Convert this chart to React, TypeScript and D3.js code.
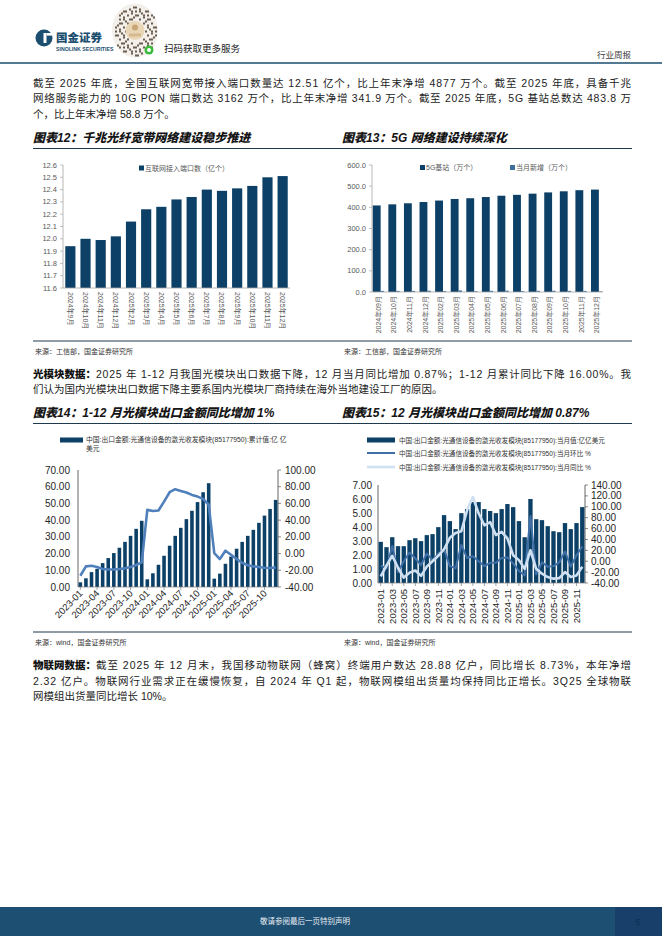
import React from 'react';
import * as d3 from 'd3';

// ---------- Data ----------
const portMonths = ['2024年9月','2024年10月','2024年11月','2024年12月','2025年2月','2025年3月','2025年4月','2025年5月','2025年6月','2025年7月','2025年8月','2025年9月','2025年10月','2025年11月','2025年12月'];
const portValues = [11.94,12.00,11.99,12.02,12.14,12.24,12.26,12.32,12.34,12.40,12.39,12.41,12.43,12.50,12.51];
const portTicks = [11.6,11.7,11.8,11.9,12.0,12.1,12.2,12.3,12.4,12.5,12.6];

const bsMonths = ['2024年09月','2024年10月','2024年11月','2024年12月','2025年02月','2025年03月','2025年04月','2025年05月','2025年06月','2025年07月','2025年08月','2025年09月','2025年10月','2025年11月','2025年12月'];
const bsTotal = [408.9,414.1,419.1,425.1,432.0,439.5,443.0,448.6,454.9,459.0,464.6,470.5,475.8,481.0,483.8];
const bsNew = [5.2,5.2,5.0,6.0,4.0,7.5,3.6,5.6,6.3,4.1,5.6,5.9,5.3,5.2,2.8];
const bsTicks = [0,100,200,300,400,500,600];

const exportMonths: string[] = [];
for (const yr of [2023, 2024, 2025]) for (let m = 1; m <= 12; m++) exportMonths.push(`${yr}-${m < 10 ? '0' + m : m}`);

const cumValues = [2.8,5.2,8.9,10.9,14.3,17.3,20.3,23.5,27.0,30.6,34.8,39.6, 4.6,8.2,13.3,18.7,24.7,30.6,35.4,40.6,45.6,50.8,56.7,62.1, 5.0,8.0,13.9,18.2,22.9,27.0,30.6,34.2,38.4,42.7,46.7,52.1];
const cumYoY = [-26.5,-15.3,-14.5,-16,-18.5,-19,-19,-18.5,-17.7,-16,-13.7,-10.5, 52.3,51,51.5,62.2,73.4,77,75,73,70.2,68.2,65.4,58.4, 0.6,-6.6,3.4,-1.4,-6.6,-11,-14,-15.3,-16,-17,-17.3,-16.5];
const cumLeftTicks = [0,10,20,30,40,50,60,70];
const cumRightTicks = [-40,-20,0,20,40,60,80,100];
const cumLabelMonths = ['2023-01','2023-04','2023-07','2023-10','2024-01','2024-04','2024-07','2024-10','2025-01','2025-04','2025-07','2025-10'];

const monthValues = [2.94,2.56,3.27,2.63,2.63,3.06,3.20,2.99,3.42,3.49,3.99,4.85, 4.42,3.85,4.99,5.28,5.78,5.78,5.28,5.14,4.99,5.28,5.64,5.42, 4.42,3.27,6.00,4.56,4.49,4.06,3.70,3.63,4.28,3.85,4.28,5.42];
const momValues = [-8,-13,28,-20,0,16,5,-7,14,2,14,22, -9,-13,30,6,9,0,-9,-3,-3,6,7,-4, -18,-26,83,-24,-2,-10,-9,-2,18,-10,11,27];
const yoyValues = [-28,-8,10,-12,-30,-21,-17,-27,-10,0,10,22, 43,52,55,94,118,88,66,72,48,54,42,11, 2,-14,20,-14,-23,-29,-32,-31,-20,-29,-26,-10];
const monLeftTicks = [0,1,2,3,4,5,6,7];
const monRightTicks = [-40,-20,0,20,40,60,80,100,120,140];
const monLabelMonths = ['2023-01','2023-03','2023-05','2023-07','2023-09','2023-11','2024-01','2024-03','2024-05','2024-07','2024-09','2024-11','2025-01','2025-03','2025-05','2025-07','2025-09','2025-11'];

// ---------- Styles ----------
const NAVY = '#0c4066';
const HEAD = '#1b4e6f';
const CJK = '"Liberation Sans", "Noto Sans CJK SC", sans-serif';
const NUM = '"Liberation Sans", Arial, sans-serif';

function JLine({ x, y, w, text, bold, prefix, size = 10.5 }: any) {
  if (prefix) {
    const pw = prefix.length * size;
    return (
      <g>
        <text x={x} y={y} fontSize={size} fontWeight={900} fill="#111" fontFamily={CJK}>{prefix}</text>
        <text x={x + pw} y={y} fontSize={size} fill="#222" fontFamily={CJK}
          {...(w ? { textLength: w - pw, lengthAdjust: 'spacing' } : {})}>{text}</text>
      </g>
    );
  }
  return (
    <text x={x} y={y} fontSize={size} fill="#222" fontFamily={CJK} fontWeight={bold ? 900 : 400}
      {...(w ? { textLength: w, lengthAdjust: 'spacing' } : {})}>{text}</text>
  );
}

function Title({ x, y, text }: any) {
  return <text x={x} y={y} fontSize={12} fontWeight={900} fontStyle="italic" fill="#151515" fontFamily={CJK}>{text}</text>;
}

function Chart12() {
  const y = d3.scaleLinear().domain([11.6, 12.6]).range([288, 165]);
  const x = d3.scaleBand().domain(portMonths).range([63, 290]).paddingInner(0.33).paddingOuter(0.15);
  return (
    <g>
      {portTicks.map(t => (
        <g key={t}>
          <line x1={60} x2={63} y1={y(t)} y2={y(t)} stroke="#a6a6a6" strokeWidth={0.7} />
          <text x={57} y={y(t) + 2.5} fontSize={7.5} fill="#595959" textAnchor="end" fontFamily={NUM}>{t.toFixed(1)}</text>
        </g>
      ))}
      <line x1={63} x2={63} y1={165} y2={288} stroke="#a6a6a6" strokeWidth={0.8} />
      {portMonths.map((m, i) => (
        <rect key={m} x={x(m)} y={y(portValues[i])} width={x.bandwidth()} height={288 - y(portValues[i])} fill={NAVY} />
      ))}
      <line x1={63} x2={290} y1={288} y2={288} stroke="#a6a6a6" strokeWidth={0.8} />
      {portMonths.map((m, i) => (
        <text key={m} transform={`translate(${(x(m) as number) + x.bandwidth() / 2 - 2.5},292) rotate(90)`} fontSize={7} fill="#595959" fontFamily={CJK}>{m}</text>
      ))}
      <rect x={139} y={165.5} width={5} height={5} fill={NAVY} />
      <text x={145} y={170.5} fontSize={7} fill="#595959" fontFamily={CJK}>互联网接入端口数（亿个）</text>
    </g>
  );
}

function Chart13() {
  const y = d3.scaleLinear().domain([0, 600]).range([292, 165]);
  const x = d3.scaleBand().domain(bsMonths).range([372, 603]).paddingInner(0.28).paddingOuter(0.05);
  const bw = x.bandwidth();
  return (
    <g>
      {bsTicks.map(t => (
        <g key={t}>
          <line x1={369} x2={372} y1={y(t)} y2={y(t)} stroke="#a6a6a6" strokeWidth={0.7} />
          <text x={366} y={y(t) + 2.5} fontSize={7.5} fill="#595959" textAnchor="end" fontFamily={NUM}>{t.toFixed(1)}</text>
        </g>
      ))}
      <line x1={372} x2={372} y1={165} y2={292} stroke="#a6a6a6" strokeWidth={0.8} />
      {bsMonths.map((m, i) => (
        <g key={m}>
          <rect x={x(m)} y={y(bsTotal[i])} width={bw * 0.7} height={292 - y(bsTotal[i])} fill={NAVY} />
          <rect x={(x(m) as number) + bw * 0.7} y={y(bsNew[i])} width={bw * 0.3} height={292 - y(bsNew[i])} fill="#3e6e9c" />
        </g>
      ))}
      <line x1={372} x2={603} y1={292} y2={292} stroke="#a6a6a6" strokeWidth={0.8} />
      {bsMonths.map((m) => (
        <text key={m} transform={`translate(${(x(m) as number) + bw / 2 + 2.5},296) rotate(-90)`} fontSize={7} fill="#595959" textAnchor="end" fontFamily={CJK}>{m}</text>
      ))}
      <rect x={420} y={165} width={5} height={5} fill={NAVY} />
      <text x={426} y={170} fontSize={7} fill="#595959" fontFamily={CJK}>5G基站（万个）</text>
      <rect x={510} y={165} width={5} height={5} fill="#3e6e9c" />
      <text x={516} y={170} fontSize={7} fill="#595959" fontFamily={CJK}>当月新增（万个）</text>
    </g>
  );
}

function Chart14() {
  const x = d3.scaleBand().domain(exportMonths).range([78, 278]).paddingInner(0.36).paddingOuter(0.1);
  const yl = d3.scaleLinear().domain([0, 70]).range([587, 470]);
  const yr = d3.scaleLinear().domain([-40, 100]).range([587, 470]);
  const bw = x.bandwidth();
  const line = d3.line<number>().x((_, i) => (x(exportMonths[i]) as number) + bw / 2).y(d => yr(d));
  return (
    <g>
      {cumLeftTicks.map(t => (
        <text key={t} x={70} y={yl(t) + 3.5} fontSize={10} fill="#262626" textAnchor="end" fontFamily={NUM}>{t.toFixed(2)}</text>
      ))}
      {cumRightTicks.map(t => (
        <g key={t}>
          <line x1={278} x2={281} y1={yr(t)} y2={yr(t)} stroke="#595959" strokeWidth={0.7} />
          <text x={285} y={yr(t) + 3.5} fontSize={10} fill="#262626" fontFamily={NUM}>{t.toFixed(2)}</text>
        </g>
      ))}
      <line x1={78} x2={78} y1={470} y2={587} stroke="#404040" strokeWidth={0.8} />
      <line x1={278} x2={278} y1={470} y2={587} stroke="#404040" strokeWidth={0.8} />
      {exportMonths.map((m, i) => (
        <rect key={m} x={x(m)} y={yl(cumValues[i])} width={bw} height={587 - yl(cumValues[i])} fill={NAVY} />
      ))}
      <line x1={78} x2={278} y1={587} y2={587} stroke="#7f7f7f" strokeWidth={0.7} />
      {cumLabelMonths.map(m => {
        const cx = (x(m) as number) + bw / 2;
        return (
          <g key={m}>
            <line x1={cx} x2={cx} y1={587} y2={590} stroke="#7f7f7f" strokeWidth={0.7} />
            <text transform={`translate(${cx + 3},${594}) rotate(-45)`} fontSize={9.5} fill="#262626" textAnchor="end" fontFamily={NUM}>{m}</text>
          </g>
        );
      })}
      <path d={line(cumYoY) as string} fill="none" stroke="#4f80bb" strokeWidth={2.6} strokeLinejoin="round" />
      <rect x={60} y={437.5} width={23} height={5} fill={NAVY} />
      <text x={86} y={442} fontSize={6.8} fill="#333" fontFamily={CJK}>中国:出口金额:光通信设备的激光收发模块(85177950):累计值:亿 亿</text>
      <text x={86} y={450.5} fontSize={6.8} fill="#333" fontFamily={CJK}>美元</text>
    </g>
  );
}

function Chart15() {
  const x = d3.scaleBand().domain(exportMonths).range([378, 585]).paddingInner(0.25).paddingOuter(0.1);
  const yl = d3.scaleLinear().domain([0, 7]).range([583, 485]);
  const yr = d3.scaleLinear().domain([-40, 140]).range([583, 485]);
  const bw = x.bandwidth();
  const line = d3.line<number>().x((_, i) => (x(exportMonths[i]) as number) + bw / 2).y(d => yr(d));
  return (
    <g>
      {monLeftTicks.map(t => (
        <text key={t} x={372} y={yl(t) + 3.5} fontSize={10} fill="#262626" textAnchor="end" fontFamily={NUM}>{t.toFixed(2)}</text>
      ))}
      {monRightTicks.map(t => (
        <g key={t}>
          <line x1={585} x2={588} y1={yr(t)} y2={yr(t)} stroke="#595959" strokeWidth={0.7} />
          <text x={591} y={yr(t) + 3.5} fontSize={10} fill="#262626" fontFamily={NUM}>{t.toFixed(2)}</text>
        </g>
      ))}
      <line x1={378} x2={378} y1={485} y2={583} stroke="#404040" strokeWidth={0.8} />
      <line x1={585} x2={585} y1={485} y2={583} stroke="#404040" strokeWidth={0.8} />
      {exportMonths.map((m, i) => (
        <rect key={m} x={x(m)} y={yl(monthValues[i])} width={bw} height={583 - yl(monthValues[i])} fill={NAVY} />
      ))}
      <line x1={378} x2={585} y1={583} y2={583} stroke="#7f7f7f" strokeWidth={0.7} />
      {monLabelMonths.map(m => {
        const cx = (x(m) as number) + bw / 2;
        return (
          <g key={m}>
            <line x1={cx} x2={cx} y1={583} y2={586} stroke="#7f7f7f" strokeWidth={0.7} />
            <text transform={`translate(${cx + 3.5},${589}) rotate(-90)`} fontSize={9.5} fill="#262626" textAnchor="end" fontFamily={NUM}>{m}</text>
          </g>
        );
      })}
      <path d={line(momValues) as string} fill="none" stroke="#3f6fa6" strokeWidth={2} strokeLinejoin="round" />
      <path d={line(yoyValues) as string} fill="none" stroke="#cfe0f2" strokeWidth={2.6} strokeLinejoin="round" />
      <rect x={367} y={437.5} width={28} height={5} fill={NAVY} />
      <text x={399} y={442.5} fontSize={6.6} fill="#333" fontFamily={CJK}>中国:出口金额:光通信设备的激光收发模块(85177950):当月值:亿亿美元</text>
      <line x1={367} x2={395} y1={453} y2={453} stroke="#3f6fa6" strokeWidth={2} />
      <text x={399} y={455.8} fontSize={6.6} fill="#333" fontFamily={CJK}>中国:出口金额:光通信设备的激光收发模块(85177950):当月环比 %</text>
      <line x1={367} x2={395} y1={467} y2={467} stroke="#cfe0f2" strokeWidth={2.6} />
      <text x={399} y={469.8} fontSize={6.6} fill="#333" fontFamily={CJK}>中国:出口金额:光通信设备的激光收发模块(85177950):当月同比 %</text>
    </g>
  );
}

function Header() {
  const cells: JSX.Element[] = [];
  for (let i = -11; i <= 11; i++) {
    for (let j = -13; j <= 13; j++) {
      const r = Math.hypot(i * 1.0, j * 0.85);
      if (r > 10.8) continue;
      if (r < 5) continue;
      if (((i * 7 + j * 13 + i * j * 3) & 3) === 0 || ((i + 2 * j) % 5 === 0)) {
        cells.push(<rect key={`${i}_${j}`} x={135 + i * 2} y={30.5 + j * 2} width={2} height={2} fill="#6b5d4f" />);
      }
    }
  }
  return (
    <g>
      <ellipse cx={135} cy={30.5} rx={23} ry={27} fill="#f3f0ec" />
      {cells}
      <circle cx={135} cy={30.5} r={9.5} fill="#e9d6b6" />
      <circle cx={135} cy={27.5} r={3} fill="#c9a676" />
      <rect x={129} y={33.5} width={12} height={3} fill="#d6b98e" />
      <circle cx={149} cy={50} r={4.5} fill="#3cbb3c" />
      <circle cx={149} cy={50} r={2} fill="#fff" />
      {/* logo */}
      <circle cx={44} cy={38} r={8.5} fill={HEAD} />
      <rect x={43.5} y={33} width={3} height={10} fill="#fff" />
      <rect x={46.5} y={33} width={6.5} height={2.6} fill="#fff" />
      <text x={56} y={42} fontSize={11.5} fontWeight={900} fill={HEAD} fontFamily={CJK}>国金证券</text>
      <text x={56} y={50.5} fontSize={5.2} fontWeight={700} fill={HEAD} fontFamily={NUM}>SINOLINK SECURITIES</text>
      <text x={164} y={52} fontSize={9.5} fill="#222" fontFamily={CJK}>扫码获取更多服务</text>
      <text x={631} y={58} fontSize={8.5} fill="#404040" textAnchor="end" fontFamily={CJK}>行业周报</text>
      <line x1={0} x2={662} y1={63} y2={63} stroke={HEAD} strokeWidth={1.6} />
    </g>
  );
}

export default function App() {
  const L = 33, W = 598;
  return (
    <svg width={662} height={936} style={{ position: 'absolute', left: 0, top: 0, background: '#fff' }}>
      <rect x={0} y={0} width={662} height={936} fill="#fff" />
      <Header />
      <JLine x={L} y={86.5} w={W} text="截至 2025 年底，全国互联网宽带接入端口数量达 12.51 亿个，比上年末净增 4877 万个。截至 2025 年底，具备千兆" />
      <JLine x={L} y={102} w={W} text="网络服务能力的 10G  PON 端口数达 3162 万个，比上年末净增 341.9 万个。截至 2025 年底，5G 基站总数达 483.8 万" />
      <JLine x={L} y={117.5} text="个，比上年末净增 58.8 万个。" />

      <Title x={33} y={141.5} text="图表12：千兆光纤宽带网络建设稳步推进" />
      <Title x={342} y={141.5} text="图表13：5G 网络建设持续深化" />
      <line x1={33} x2={632} y1={148.5} y2={148.5} stroke="#1f3a4f" strokeWidth={1.2} />
      <Chart12 />
      <Chart13 />
      <line x1={33} x2={632} y1={341} y2={341} stroke="#1f3a4f" strokeWidth={1.2} />
      <text x={35} y={354} fontSize={7} fill="#333" fontFamily={CJK}>来源：工信部，国金证券研究所</text>
      <text x={344} y={354} fontSize={7} fill="#333" fontFamily={CJK}>来源：工信部，国金证券研究所</text>

      <JLine x={L} y={377.5} w={W} prefix="光模块数据：" text="2025 年 1-12 月我国光模块出口数据下降，12 月当月同比增加 0.87%；1-12 月累计同比下降 16.00%。我" />
      <JLine x={L} y={393} text="们认为国内光模块出口数据下降主要系国内光模块厂商持续在海外当地建设工厂的原因。" />

      <Title x={33} y={416.5} text="图表14：1-12 月光模块出口金额同比增加 1%" />
      <Title x={342} y={416.5} text="图表15：12 月光模块出口金额同比增加 0.87%" />
      <line x1={33} x2={632} y1={423.5} y2={423.5} stroke="#1f3a4f" strokeWidth={1.2} />
      <Chart14 />
      <Chart15 />
      <line x1={33} x2={632} y1={632} y2={632} stroke="#1f3a4f" strokeWidth={1.2} />
      <text x={35} y={645} fontSize={7} fill="#333" fontFamily={CJK}>来源：wind，国金证券研究所</text>
      <text x={344} y={645} fontSize={7} fill="#333" fontFamily={CJK}>来源：wind，国金证券研究所</text>

      <JLine x={L} y={669} w={W} prefix="物联网数据：" text="截至 2025 年 12 月末，我国移动物联网（蜂窝）终端用户数达 28.88 亿户，同比增长 8.73%，本年净增" />
      <JLine x={L} y={684.5} w={W} text="2.32 亿户。物联网行业需求正在缓慢恢复，自 2024 年 Q1 起，物联网模组出货量均保持同比正增长。3Q25 全球物联" />
      <JLine x={L} y={700} text="网模组出货量同比增长 10%。" />

      <rect x={0} y={907} width={615} height={29} fill="#1d4f72" />
      <rect x={615} y={907} width={47} height={29} fill="#173f6a" />
      <text x={305} y={924} fontSize={7.5} fill="#e8eef4" textAnchor="middle" fontFamily={CJK}>敬请参阅最后一页特别声明</text>
      <text x={638} y={925} fontSize={9} fill="#0e2e52" textAnchor="middle" fontFamily={NUM}>5</text>
    </svg>
  );
}
